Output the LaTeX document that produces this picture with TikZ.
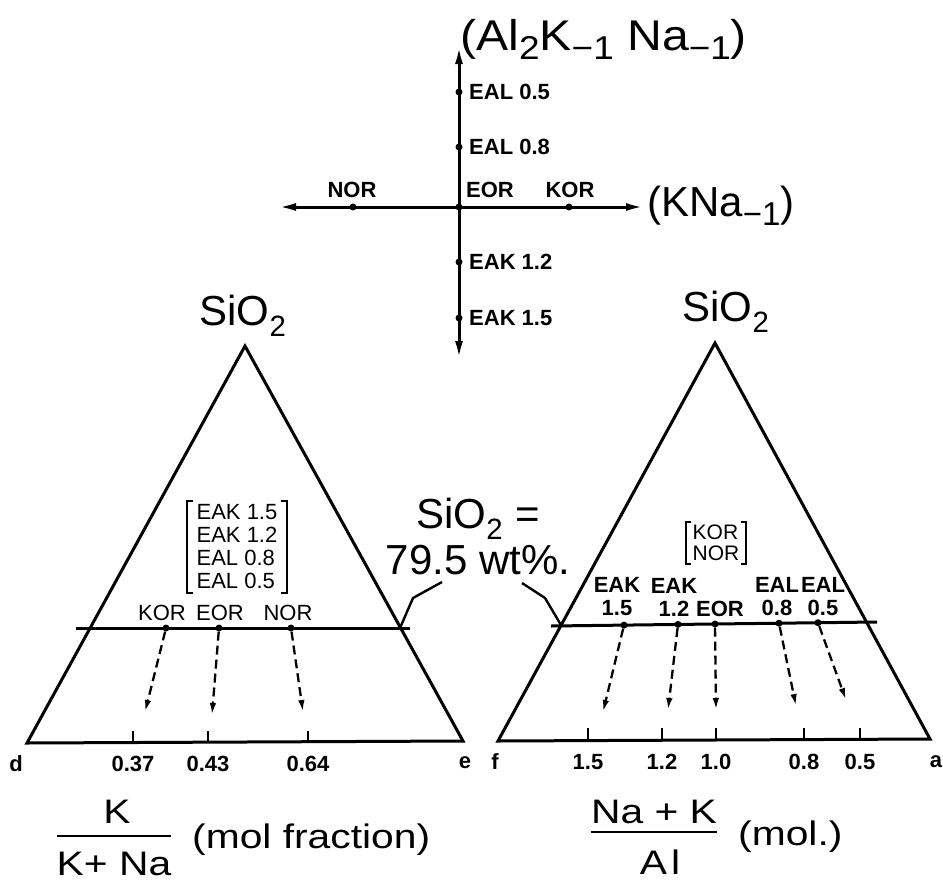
\documentclass[tikz,border=0pt]{standalone}
\usepackage{fontspec}
\setmainfont{Liberation Sans}
\newfontfamily\widesans[FakeStretch=1.2]{Liberation Sans}
\newfontfamily\midsans[FakeStretch=1.12]{Liberation Sans}
\usepackage{tikz}
\usetikzlibrary{arrows.meta}
\newcommand\bsub[1]{\raisebox{-9pt}{\fontsize{33}{33}\selectfont #1}}

\begin{document}
\begin{tikzpicture}[
  x=1pt, y=-1pt,
  big/.style={font=\fontsize{42}{46}\selectfont, inner sep=0pt},
  frac/.style={font=\widesans\fontsize{34}{38}\selectfont, inner sep=0pt},
  tag/.style={font=\fontsize{22}{23}\selectfont\bfseries, inner sep=0pt},
  grp/.style={font=\fontsize{22}{23}\selectfont, inner sep=0pt, align=left},
  dot/.style={circle, fill=black, inner sep=0pt, minimum size=7pt},
  tri/.style={line width=3pt},
  axis/.style={{Latex[length=18pt,width=8pt]}-{Latex[length=18pt,width=8pt]}, line width=3pt},
  arr/.style={-{Latex[length=12pt,width=6.5pt]}, line width=2.3pt, dash pattern=on 9pt off 5pt},
  lead/.style={line width=2.4pt},
  brk/.style={line width=2pt},
  tick/.style={line width=2.2pt}
]
\useasboundingbox (0,0) rectangle (943,884);

% exchange vectors
\coordinate (ytop)   at (459,46);
\coordinate (ybot)   at (459,359);
\coordinate (xleft)  at (278,207);
\coordinate (xright) at (644,207);
\draw[axis] (xleft) -- (xright);
\draw[axis] (ybot) -- (ytop);

\node[dot] (eor)  at (459,207) {};
\node[dot] (nor)  at (353,207) {};
\node[dot] (kor)  at (569,207) {};
\node[dot] (eal5) at (459,92)  {};
\node[dot] (eal8) at (459,147) {};
\node[dot] (eak2) at (459,262) {};
\node[dot] (eak5) at (459,318) {};

\node[tag] (norlbl) at (352,190) {NOR};
\node[tag] (eorlbl) at (490,190) {EOR};
\node[tag] (korlbl) at (570,190) {KOR};
\node[tag, anchor=west] (eal5lbl) at (469,92)  {EAL 0.5};
\node[tag, anchor=west] (eal8lbl) at (469,147) {EAL 0.8};
\node[tag, anchor=west] (eak2lbl) at (469,262) {EAK 1.2};
\node[tag, anchor=west] (eak5lbl) at (469,318) {EAK 1.5};

\node[big, font=\midsans\fontsize{43}{46}\selectfont, anchor=base west] (alvec) at (460,50)
  {(Al\bsub{2}K\bsub{−1} Na\bsub{−1})};
\node[big, anchor=base west] (knavec) at (647,216) {(KNa\bsub{−1})};

% K/(K+Na) triangle
\coordinate (ltop) at (245,346);
\coordinate (d)    at (27,743);
\coordinate (e)    at (463,741);
\draw[tri] (ltop) -- (d) -- (e) -- cycle;
\node[big, anchor=base] (lsio) at (243,325) {SiO\textsubscript{2}};
\node[tag] (dlbl) at (16,764)  {d};
\node[tag] (elbl) at (465,763) {e};

\coordinate (lcutl) at (76,628);
\coordinate (lcutr) at (410,628);
\draw[tri] (lcutl) -- (lcutr);

\node[dot] (lkor) at (166,628) {};
\node[dot] (leor) at (219,628) {};
\node[dot] (lnor) at (291,628) {};
\node[grp] (lkorlbl) at (162,613) {KOR};
\node[grp] (leorlbl) at (220,613) {EOR};
\node[grp] (lnorlbl) at (288,613) {NOR};

\node[grp, inner xsep=9pt, inner ysep=4pt] (lgrp) at (237,547) {EAK 1.5\\EAK 1.2\\EAL 0.8\\EAL 0.5};
\draw[brk] ([xshift=6pt]lgrp.north west) -| (lgrp.south west) -- ++(6,0);
\draw[brk] ([xshift=-6pt]lgrp.north east) -| (lgrp.south east) -- ++(-6,0);

\coordinate (lk37) at (145,712);
\coordinate (lk43) at (212,715);
\coordinate (lk64) at (303,712);
\draw[arr] (lkor) -- (lk37);
\draw[arr] (leor) -- (lk43);
\draw[arr] (lnor) -- (lk64);

\foreach \x/\v in {133/0.37, 208/0.43, 308/0.64}{
  \draw[tick] (\x,742) -- (\x,731);
  \node[tag] (t\x) at (\x,764) {\v};
}

\node[frac] (knum) at (117,812) {K};
\node[frac] (kden) at (114,864) {K+ Na};
\draw[lead] ([yshift=16pt]kden.north west) -- ([yshift=16pt]kden.north east);
\node[frac, anchor=west] (moll) at (192,840) {(mol fraction)};

% (Na+K)/Al triangle
\coordinate (rtop) at (715,343);
\coordinate (f)    at (498,741);
\coordinate (a)    at (930,739);
\draw[tri] (rtop) -- (f) -- (a) -- cycle;
\node[big, anchor=base] (rsio) at (726,321) {SiO\textsubscript{2}};
\node[tag] (flbl) at (495,762) {f};
\node[tag] (albl) at (936,762) {a};

\coordinate (rcutl) at (551,626);
\coordinate (rcutr) at (877,622);
\draw[tri] (rcutl) -- (rcutr);

\node[dot] (reak5) at (624,625.1) {};
\node[dot] (reak2) at (678,624.4) {};
\node[dot] (reor)  at (715,624)   {};
\node[dot] (real8) at (779,623.2) {};
\node[dot] (real5) at (818,622.7) {};
\node[tag, align=center] (reak5lbl) at (617,597) {EAK\\1.5};
\node[tag, align=center] (reak2lbl) at (674,597) {EAK\\1.2};
\node[tag] (reorlbl) at (720,609) {EOR};
\node[tag, align=center] (real8lbl) at (777,597) {EAL\\0.8};
\node[tag, align=center] (real5lbl) at (823,597) {EAL\\0.5};

\node[grp, font=\fontsize{21}{21}\selectfont, inner xsep=6pt, inner ysep=3pt] (rgrp) at (716,543) {KOR\\NOR};
\draw[brk] ([xshift=5pt]rgrp.north west) -| (rgrp.south west) -- ++(5,0);
\draw[brk] ([xshift=-5pt]rgrp.north east) -| (rgrp.south east) -- ++(-5,0);

\coordinate (rk15) at (603,712);
\coordinate (rk12) at (668,710);
\coordinate (rk10) at (716,710);
\coordinate (rk08) at (796,706);
\coordinate (rk05) at (846,700);
\draw[arr] (reak5) -- (rk15);
\draw[arr] (reak2) -- (rk12);
\draw[arr] (reor)  -- (rk10);
\draw[arr] (real8) -- (rk08);
\draw[arr] (real5) -- (rk05);

\foreach \x/\v in {588/1.5, 662/1.2, 716/1.0, 804/0.8, 860/0.5}{
  \draw[tick] (\x,740) -- (\x,728);
  \node[tag] (t\x) at (\x,762) {\v};
}

\node[frac] (nnum) at (654,812) {Na + K};
\node[frac] (nden) at (660,862) {A\kern4pt l};
\draw[lead] ([yshift=-8pt]nnum.south west) -- ([yshift=-8pt]nnum.south east);
\node[frac, anchor=west] (molr) at (738,837) {(mol.)};

% SiO2 level
\node[big, align=center] (sio) at (478,536) {SiO\textsubscript{2} =\\79.5 wt\%.};
\coordinate (lk1) at (442,582);
\coordinate (lk2) at (413,598);
\coordinate (lsx) at (400,628);
\coordinate (rk1) at (522,583);
\coordinate (rk2) at (545,598);
\coordinate (rsx) at (561,625);
\draw[lead] (lk1) -- (lk2) -- (lsx);
\draw[lead] (rk1) -- (rk2) -- (rsx);

\end{tikzpicture}
\end{document}
